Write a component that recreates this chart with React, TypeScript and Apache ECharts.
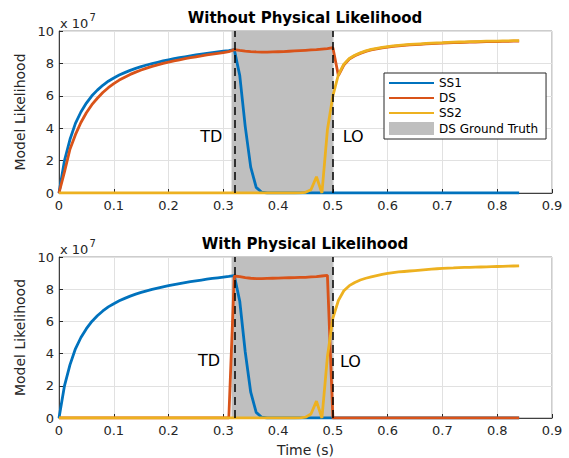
import React, { useEffect, useRef } from 'react';
import * as echarts from 'echarts';

const time = [
  0, 0.01, 0.02, 0.03, 0.04, 0.05, 0.06, 0.07, 0.08, 0.09,
  0.1, 0.11, 0.12, 0.13, 0.14, 0.15, 0.16, 0.17, 0.18, 0.19,
  0.2, 0.21, 0.22, 0.23, 0.24, 0.25, 0.26, 0.27, 0.28, 0.29,
  0.3, 0.31, 0.32, 0.33, 0.34, 0.35, 0.36, 0.37, 0.38, 0.39,
  0.4, 0.41, 0.42, 0.43, 0.44, 0.45, 0.46, 0.47, 0.48, 0.49,
  0.5, 0.51, 0.52, 0.53, 0.54, 0.55, 0.56, 0.57, 0.58, 0.59,
  0.6, 0.61, 0.62, 0.63, 0.64, 0.65, 0.66, 0.67, 0.68, 0.69,
  0.7, 0.71, 0.72, 0.73, 0.74, 0.75, 0.76, 0.77, 0.78, 0.79,
  0.8, 0.81, 0.82, 0.83, 0.84,
];

// values in units of 1e7
const ss1 = [
  0, 2.0, 3.3, 4.3, 5.0, 5.55, 6.0, 6.35, 6.65, 6.9,
  7.1, 7.28, 7.43, 7.57, 7.69, 7.8, 7.9, 7.99, 8.07, 8.15,
  8.22, 8.29, 8.35, 8.41, 8.47, 8.52, 8.57, 8.62, 8.67, 8.71,
  8.75, 8.79, 8.85, 7.25, 4.1, 1.6, 0.35, 0.05, 0, 0,
  0, 0, 0, 0, 0, 0, 0, 0, 0, 0,
  0, 0, 0, 0, 0, 0, 0, 0, 0, 0,
  0, 0, 0, 0, 0, 0, 0, 0, 0, 0,
  0, 0, 0, 0, 0, 0, 0, 0, 0, 0,
  0, 0, 0, 0, 0,
];

const dsWithout = [
  0, 1.3, 2.7, 3.6, 4.35, 4.95, 5.45, 5.85, 6.2, 6.5,
  6.75, 6.97, 7.15, 7.32, 7.46, 7.59, 7.71, 7.82, 7.91, 8.0,
  8.08, 8.15, 8.22, 8.29, 8.35, 8.41, 8.46, 8.52, 8.57, 8.62,
  8.67, 8.72, 8.85, 8.8, 8.76, 8.73, 8.71, 8.7, 8.7, 8.71,
  8.72, 8.73, 8.75, 8.77, 8.79, 8.81, 8.83, 8.85, 8.88, 8.91,
  8.97, 7.25, 7.9, 8.27, 8.47, 8.62, 8.74, 8.83, 8.9, 8.96,
  9.01, 9.05, 9.08, 9.11, 9.14, 9.16, 9.18, 9.2, 9.22, 9.24,
  9.25, 9.27, 9.28, 9.29, 9.3, 9.31, 9.32, 9.33, 9.34, 9.34,
  9.35, 9.36, 9.36, 9.37, 9.37,
];

const ss2Without = [
  0, 0, 0, 0, 0, 0, 0, 0, 0, 0,
  0, 0, 0, 0, 0, 0, 0, 0, 0, 0,
  0, 0, 0, 0, 0, 0, 0, 0, 0, 0,
  0, 0, 0, 0, 0, 0, 0, 0, 0, 0,
  0, 0, 0, 0, 0.01, 0.04, 0.2, 1.0, 0, 3.9,
  6.0, 7.3, 7.95, 8.3, 8.5, 8.65, 8.77, 8.86, 8.93, 8.99,
  9.04, 9.08, 9.11, 9.14, 9.17, 9.19, 9.21, 9.23, 9.25, 9.27,
  9.28, 9.3, 9.31, 9.32, 9.33, 9.34, 9.35, 9.36, 9.37, 9.37,
  9.38, 9.39, 9.39, 9.4, 9.4,
];

const dsWith = [
  0, 0, 0, 0, 0, 0, 0, 0, 0, 0,
  0, 0, 0, 0, 0, 0, 0, 0, 0, 0,
  0, 0, 0, 0, 0, 0, 0, 0, 0, 0,
  0, 0, 8.82, 8.78, 8.72, 8.68, 8.66, 8.66, 8.67, 8.68,
  8.69, 8.7, 8.71, 8.72, 8.73, 8.74, 8.76, 8.78, 8.82, 8.86,
  0, 0, 0, 0, 0, 0, 0, 0, 0, 0,
  0, 0, 0, 0, 0, 0, 0, 0, 0, 0,
  0, 0, 0, 0, 0, 0, 0, 0, 0, 0,
  0, 0, 0, 0, 0,
];

const ss2With = [
  0, 0, 0, 0, 0, 0, 0, 0, 0, 0,
  0, 0, 0, 0, 0, 0, 0, 0, 0, 0,
  0, 0, 0, 0, 0, 0, 0, 0, 0, 0,
  0, 0, 0, 0, 0, 0, 0, 0, 0, 0,
  0, 0, 0, 0, 0.01, 0.05, 0.25, 1.05, 0, 3.8,
  6.2, 7.3, 7.9, 8.22, 8.42, 8.57, 8.68, 8.77, 8.85, 8.92,
  8.98, 9.03, 9.07, 9.1, 9.13, 9.16, 9.19, 9.22, 9.25, 9.27,
  9.29, 9.31, 9.32, 9.34, 9.35, 9.36, 9.37, 9.38, 9.39, 9.4,
  9.41, 9.42, 9.43, 9.44, 9.45,
];

const groundTruth = [0.315, 0.5];
const titles = ['Without Physical Likelihood', 'With Physical Likelihood'];
const seriesNames = ['SS1', 'DS', 'SS2'];
const seriesColors = ['#0072BD', '#D95319', '#EDB120'];
const annotationsWithout = [
  { text: 'TD', t: 0.278, v: 3.46 },
  { text: 'LO', t: 0.537, v: 3.46 },
];
const annotationsWith = [
  { text: 'TD', t: 0.274, v: 3.55 },
  { text: 'LO', t: 0.532, v: 3.53 },
];

const FONT = '"DejaVu Sans", sans-serif';
const AX = '#262626';
const GRID_TOPS = [31, 257];
const GRID_LEFT = 59;
const GRID_W = 493;
const GRID_H = 162;

function pairs(vals: number[]) {
  return time.map((t, i) => [t, vals[i]]);
}

function buildOption() {
  const panels = [
    { data: [ss1, dsWithout, ss2Without], ann: annotationsWithout },
    { data: [ss1, dsWith, ss2With], ann: annotationsWith },
  ];
  const grid = GRID_TOPS.map((top) => ({
    left: GRID_LEFT,
    top,
    width: GRID_W,
    height: GRID_H,
    show: true,
    borderColor: '#9a9a9a',
    borderWidth: 1,
    backgroundColor: 'transparent',
  }));
  const xAxis = GRID_TOPS.map((_, i) => ({
    gridIndex: i,
    type: 'value',
    min: 0,
    max: 0.9,
    interval: 0.1,
    axisLine: { show: true, onZero: false, lineStyle: { color: '#404040', width: 1 } },
    axisTick: { show: true, inside: true, length: 4, lineStyle: { color: AX } },
    axisLabel: {
      color: AX,
      fontSize: 13,
      fontFamily: FONT,
      margin: 6,
      formatter: (v: number) => String(Math.round(v * 10) / 10),
    },
    splitLine: { show: true, lineStyle: { color: '#e1e1e1', width: 1 } },
    name: i === 1 ? 'Time (s)' : '',
    nameLocation: 'middle',
    nameGap: 25,
    nameTextStyle: { color: AX, fontSize: 14, fontFamily: FONT },
  }));
  const yAxis = GRID_TOPS.map((_, i) => ({
    gridIndex: i,
    type: 'value',
    min: 0,
    max: 10,
    interval: 2,
    axisLine: { show: true, onZero: false, lineStyle: { color: '#404040', width: 1 } },
    axisTick: { show: true, inside: true, length: 4, lineStyle: { color: AX } },
    axisLabel: { color: AX, fontSize: 13, fontFamily: FONT, margin: 5 },
    splitLine: { show: true, lineStyle: { color: '#e1e1e1', width: 1 } },
    name: 'Model Likelihood',
    nameLocation: 'middle',
    nameGap: 23,
    nameTextStyle: { color: AX, fontSize: 14, fontFamily: FONT },
  }));

  const series: any[] = [];
  panels.forEach((p, k) => {
    series.push({
      type: 'line',
      name: 'DS Ground Truth',
      xAxisIndex: k,
      yAxisIndex: k,
      data: [],
      symbol: 'none',
      itemStyle: { color: '#bfbfbf' },
      lineStyle: { color: '#bfbfbf' },
      z: 1,
      silent: true,
      markArea: {
        silent: true,
        itemStyle: { color: '#bfbfbf', opacity: 1 },
        data: [[{ xAxis: groundTruth[0] }, { xAxis: groundTruth[1] }]],
      },
    });
    p.data.forEach((vals, j) => {
      series.push({
        type: 'line',
        name: seriesNames[j],
        xAxisIndex: k,
        yAxisIndex: k,
        data: pairs(vals),
        symbol: 'none',
        showSymbol: false,
        itemStyle: { color: seriesColors[j] },
        lineStyle: { color: seriesColors[j], width: 2.8 },
        z: 2 + j,
        silent: true,
      });
    });
    series.push({
      type: 'line',
      xAxisIndex: k,
      yAxisIndex: k,
      data: [],
      symbol: 'none',
      z: 10,
      silent: true,
      markLine: {
        silent: true,
        symbol: ['none', 'none'],
        label: { show: false },
        lineStyle: { color: '#000', type: [8, 5], width: 1.5 },
        data: groundTruth.map((x) => ({ xAxis: x })),
      },
      markPoint: {
        silent: true,
        symbol: 'circle',
        symbolSize: 0,
        label: {
          show: true,
          position: 'inside',
          formatter: '{b}',
          fontSize: 16,
          color: '#000',
          fontFamily: FONT,
        },
        data: p.ann.map((a) => ({ name: a.text, coord: [a.t, a.v] })),
      },
    });
  });

  const graphic: any[] = [];
  titles.forEach((t, k) => {
    const top = GRID_TOPS[k];
    graphic.push({
      type: 'text',
      x: 305,
      y: top - 13,
      style: {
        text: t,
        font: `bold 15px ${FONT}`,
        fill: '#000',
        textAlign: 'center',
        textVerticalAlign: 'middle',
        align: 'center',
        verticalAlign: 'middle',
      },
    });
    graphic.push({
      type: 'text',
      x: 60,
      y: top - 7.5,
      style: {
        text: 'x 10',
        font: `13px ${FONT}`,
        fill: AX,
        textAlign: 'left',
        textVerticalAlign: 'middle',
        align: 'left',
        verticalAlign: 'middle',
      },
    });
    graphic.push({
      type: 'text',
      x: 89.5,
      y: top - 14,
      style: {
        text: '7',
        font: `10px ${FONT}`,
        fill: AX,
        textAlign: 'left',
        textVerticalAlign: 'middle',
        align: 'left',
        verticalAlign: 'middle',
      },
    });
  });

  const hiddenSymbol = { opacity: 0 };

  return {
    animation: false,
    backgroundColor: '#fff',
    grid,
    xAxis,
    yAxis,
    series,
    graphic,
    legend: {
      left: 384,
      top: 73,
      orient: 'vertical',
      itemWidth: 45,
      itemHeight: 13,
      itemGap: 3,
      padding: [4, 8, 4, 4],
      borderColor: AX,
      borderWidth: 1,
      borderRadius: 0,
      backgroundColor: '#fff',
      selectedMode: false,
      textStyle: { fontSize: 12, fontFamily: FONT, color: '#000' },
      data: [
        { name: 'SS1', itemStyle: hiddenSymbol },
        { name: 'DS', itemStyle: hiddenSymbol },
        { name: 'SS2', itemStyle: hiddenSymbol },
        { name: 'DS Ground Truth', icon: 'rect' },
      ],
    },
  };
}

export default function App() {
  const ref = useRef<HTMLDivElement>(null);
  useEffect(() => {
    if (!ref.current) return;
    const chart = echarts.init(ref.current, undefined, { renderer: 'svg' });
    chart.setOption(buildOption() as any);
    return () => chart.dispose();
  }, []);
  return (
    <div
      ref={ref}
      style={{ position: 'fixed', left: 0, top: 0, width: 569, height: 458 }}
    />
  );
}
